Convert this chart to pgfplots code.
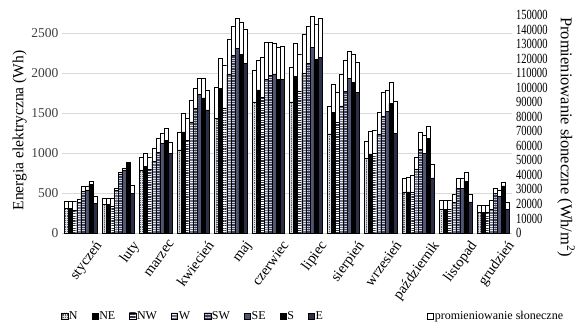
\documentclass[border=0pt]{standalone}
\usepackage{fontspec}
\setmainfont{Liberation Serif}
\usepackage{pgfplots}
\pgfplotsset{compat=1.18}
\usepackage{pgfplotstable}
\usetikzlibrary{patterns.meta}

\definecolor{cN}{HTML}{5A5E72}
\definecolor{cNW}{HTML}{30344A}
\definecolor{cW}{HTML}{6E7185}
\definecolor{cSW}{HTML}{3D4260}
\definecolor{cSE}{HTML}{4F5573}
\definecolor{cE}{HTML}{2B2F48}

% Monthly electric energy (Wh) per facade orientation
\pgfplotstableread{
m N NE NW W SW SE S E
0 310 310 280 380 520 540 610 370
1 360 360 340 530 740 790 870 500
2 780 830 800 900 1010 1120 1160 1000
3 1040 1265 1160 1390 1560 1730 1690 1540
4 1430 1810 1560 1990 2225 2310 2230 2120
5 1640 1790 1700 1920 1975 1990 1920 1920
6 1640 1960 1770 2000 2120 2320 2170 2200
7 1240 1510 1380 1590 1770 1930 1880 1760
8 930 990 1000 1240 1460 1520 1620 1250
9 515 515 510 800 1050 1000 1180 690
10 300 300 300 380 560 560 650 390
11 255 255 255 300 500 460 590 300
}\energy

% Monthly solar irradiation (Wh/m2) per orientation
\pgfplotstableread{
m N NE NW W SW SE S E
0 21700 21700 21700 23100 31900 31900 35800 25000
1 23900 23900 23900 30800 41800 44600 49000 33000
2 52300 55000 52300 58300 65500 68800 72100 62800
3 69600 82600 78700 91400 99600 106200 106200 98500
4 100200 120000 115600 133200 142600 147500 145300 140400
5 112300 118900 121100 131000 131000 130500 127700 128800
6 114000 130500 123300 136500 142600 149500 143700 147500
7 87500 102400 96900 109600 118900 125000 123300 117800
8 63300 69900 71000 83100 96900 98500 104000 90800
9 37400 38500 39600 52300 69400 67200 73800 47300
10 22600 22600 22600 27000 38000 37400 41800 27000
11 19300 19300 19300 22600 30800 29700 35200 20900
}\radiation

\newcommand{\bw}{0.108}
\pgfplotsset{
  base/.style={
    width=450bp, height=218bp, scale only axis,
    xmin=-0.5, xmax=11.5, ymin=0,
    tick style={draw=none},
    /pgf/number format/assume math mode=true,
    /pgf/number format/1000 sep={},
  },
  bars/.style={ybar, bar width=\bw, bar shift=0pt, line width=0.35bp, draw=black},
  stripes/.style={postaction={pattern={Lines[angle=0,distance=2.4bp,line width=0.55bp]}, pattern color=#1}},
}

\begin{document}
\begin{tikzpicture}
% grid, left axis and month labels
\begin{axis}[base,
  ymax=2725,
  ytick={0,500,...,2500},
  ymajorgrids, grid style={gray!30, line width=0.7bp},
  axis x line*=bottom, axis y line*=left,
  x axis line style={gray!40, line width=0.7bp, -},
  y axis line style={draw=none},
  yticklabel style={font=\fontsize{13.5bp}{15bp}\selectfont, text=black!75},
  xtick={0,...,11},
  xticklabels={styczeń,luty,marzec,kwiecień,maj,czerwiec,lipiec,sierpień,wrzesień,październik,listopad,grudzień},
  xticklabel style={rotate=54, anchor=north east, font=\fontsize{14.5bp}{16bp}\selectfont, xshift=6bp, yshift=-11bp},
  ylabel={Energia elektryczna (Wh)},
  ylabel style={at={(axis description cs:-0.094,0.47)}, anchor=center, rotate=0, font=\fontsize{15.5bp}{17bp}\selectfont},
]
\addplot[draw=none] coordinates {(0,0)};
\end{axis}

% solar irradiation, right axis
\begin{axis}[base,
  ymax=150000,
  axis x line=none, axis y line*=right,
  y axis line style={draw=none},
  ytick={0,10000,...,150000},
  scaled y ticks=false,
  yticklabel style={/pgf/number format/fixed,
    font=\fontsize{14bp}{14bp}\selectfont, xscale=0.75, anchor=west, xshift=2bp},
  ylabel={Promieniowanie słoneczne (Wh/m\textsuperscript{2})},
  ylabel style={at={(axis description cs:1.12,0.44)}, anchor=center, rotate=180, font=\fontsize{16.5bp}{17bp}\selectfont},
]
\addplot[bars, fill=white] table[x expr=\thisrow{m}-3.5*\bw, y=N] {\radiation};
\addplot[bars, fill=white] table[x expr=\thisrow{m}-2.5*\bw, y=NE] {\radiation};
\addplot[bars, fill=white] table[x expr=\thisrow{m}-1.5*\bw, y=NW] {\radiation};
\addplot[bars, fill=white] table[x expr=\thisrow{m}-0.5*\bw, y=W] {\radiation};
\addplot[bars, fill=white] table[x expr=\thisrow{m}+0.5*\bw, y=SW] {\radiation};
\addplot[bars, fill=white] table[x expr=\thisrow{m}+1.5*\bw, y=SE] {\radiation};
\addplot[bars, fill=white] table[x expr=\thisrow{m}+2.5*\bw, y=S] {\radiation};
\addplot[bars, fill=white] table[x expr=\thisrow{m}+3.5*\bw, y=E] {\radiation};
\end{axis}

% electric energy, left scale
\begin{axis}[base,
  ymax=2725,
  axis lines=none,
  legend columns=9,
  legend style={draw=none, fill=none, at={(axis description cs:0,-0.381)}, anchor=west, xshift=-4bp,
    font=\fontsize{12bp}{13bp}\selectfont,
    /tikz/every even column/.append style={column sep=12bp},
    /tikz/every odd column/.append style={column sep=-1bp}},
  legend image code/.code={\draw[#1] (0bp,-3.2bp) rectangle (6.4bp,3.2bp);},
]
\addplot[bars, fill=cN, postaction={pattern={Hatch[distance=2.2bp,line width=0.45bp]}, pattern color=white!80!cN}]
  table[x expr=\thisrow{m}-3.5*\bw, y=N] {\energy};
\addlegendentry{N}
\addplot[bars, fill=black] table[x expr=\thisrow{m}-2.5*\bw, y=NE] {\energy};
\addlegendentry{NE}
\addplot[bars, fill=white, postaction={pattern={Lines[angle=0,distance=2.4bp,line width=1.1bp]}, pattern color=cNW}]
  table[x expr=\thisrow{m}-1.5*\bw, y=NW] {\energy};
\addlegendentry{NW}
\addplot[bars, fill=cW, stripes=white!85!cW] table[x expr=\thisrow{m}-0.5*\bw, y=W] {\energy};
\addlegendentry{W}
\addplot[bars, fill=cSW, stripes=white!75!cSW] table[x expr=\thisrow{m}+0.5*\bw, y=SW] {\energy};
\addlegendentry{SW}
\addplot[bars, fill=cSE] table[x expr=\thisrow{m}+1.5*\bw, y=SE] {\energy};
\addlegendentry{SE}
\addplot[bars, fill=black] table[x expr=\thisrow{m}+2.5*\bw, y=S] {\energy};
\addlegendentry{S}
\addplot[bars, fill=cE] table[x expr=\thisrow{m}+3.5*\bw, y=E] {\energy};
\addlegendentry{E\hspace*{90bp}}
\addlegendimage{draw=black, fill=white, line width=0.35bp}
\addlegendentry{promieniowanie słoneczne}
\end{axis}

\pgfresetboundingbox
\path (-62bp,-96bp) rectangle (514bp,233bp);
\end{tikzpicture}
\end{document}
